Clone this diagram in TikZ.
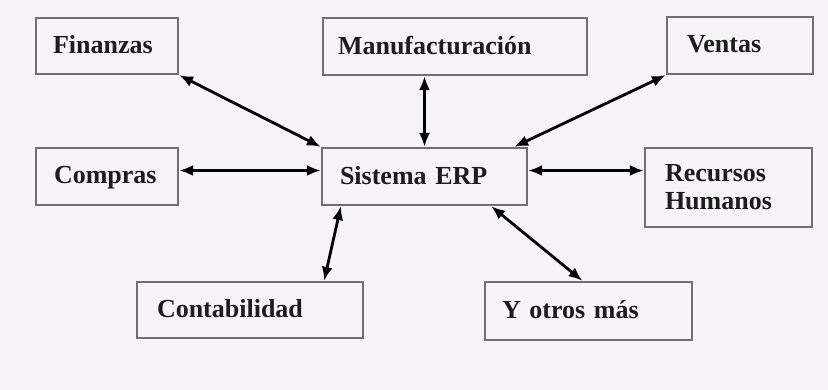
\documentclass[tikz,border=0pt]{standalone}
\usepackage{fontspec}
\setmainfont{Liberation Serif}
\usetikzlibrary{arrows.meta}
\definecolor{paper}{RGB}{246,244,246}
\definecolor{frame}{RGB}{115,110,115}
\definecolor{ink}{RGB}{28,28,28}
\begin{document}
\begin{tikzpicture}[x=1pt,y=-1pt,
  modframe/.style={draw=frame, line width=2.2pt, text=ink, align=left,
    font=\bfseries\fontsize{26}{28}\selectfont, inner ysep=0pt},
  modbox/.style={modframe, text depth=3pt},
  link/.style={line width=2.8pt, draw=black,
    {Latex[length=14pt,width=11pt]}-{Latex[length=14pt,width=11pt]}}]
  % page background
  \fill[paper] (0,0) rectangle (828,390);
  \useasboundingbox (0,0) rectangle (828,390);

  % modules
  \node[modbox, inner xsep=17pt, text width=108pt, minimum height=56pt] (fin) at (107,46) {Finanzas};
  \node[modbox, inner xsep=15pt, text width=234pt, minimum height=57pt] (man) at (455,46.5) {Manufacturación};
  \node[modbox, inner xsep=20pt, text width=106pt, minimum height=57pt] (ven) at (740,45.5) {Ventas};
  \node[modbox, inner xsep=18pt, text width=106pt, minimum height=57pt] (com) at (107,176.5) {Compras};
  \node[modbox, inner xsep=18pt, text width=169pt, minimum height=57pt] (erp) at (424.5,176.5) {Sistema ERP};
  \node[modframe, inner xsep=20pt, text width=127pt, minimum height=79pt] (rh) at (728.5,187.5) {Recursos\\Humanos};
  \node[modbox, inner xsep=20pt, text width=186pt, minimum height=56pt] (con) at (250,310) {Contabilidad};
  \node[modbox, inner xsep=17pt, text width=173pt, minimum height=58pt] (otr) at (588.5,311) {Y otros más};

  % connections to the central system
  \draw[link] (fin.south east) -- (erp.north west);
  \draw[link] (erp.north) -- (erp.north |- man.south);
  \draw[link] ([xshift=-14pt]erp.north east) -- (ven.south west);
  \draw[link] ([yshift=6pt]com.east) -- ([yshift=6pt]erp.west);
  \draw[link] ([yshift=6pt]erp.east) -- ([yshift=6pt]erp.east -| rh.west);
  \draw[link] ([xshift=20pt]erp.south west) -- ([xshift=-40pt]con.north east);
  \draw[link] ([xshift=-37pt]erp.south east) -- ([xshift=-6pt]otr.north);
\end{tikzpicture}
\end{document}
